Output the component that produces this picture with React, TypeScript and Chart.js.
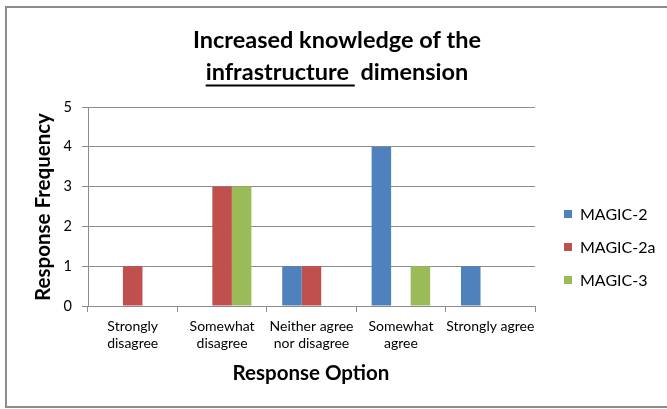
import React, { useEffect, useRef } from "react";
import { Chart, registerables } from "chart.js";

Chart.register(...registerables);

const categories: string[][] = [
  ["Strongly", "disagree"],
  ["Somewhat", "disagree"],
  ["Neither agree", "nor disagree"],
  ["Somewhat", "agree"],
  ["Strongly agree"],
];
const seriesNames = ["MAGIC-2", "MAGIC-2a", "MAGIC-3"];
const magic2 = [0, 0, 1, 4, 1];
const magic2a = [1, 3, 1, 0, 0];
const magic3 = [0, 3, 0, 1, 0];
const colors = ["#4F81BD", "#C0504D", "#9BBB59"];
const titleLine1 = "Increased knowledge of the";
const titleUnderlined = "infrastructure ";
const titleRest = " dimension";
const yTitle = "Response Frequency";
const xTitle = "Response Option";

const FONT = "Lato, 'Open Sans', sans-serif";

const decorPlugin = {
  id: "decor",
  beforeDraw(chart: any) {
    const ctx = chart.ctx;
    ctx.save();
    ctx.fillStyle = "#ffffff";
    ctx.fillRect(0, 0, chart.width, chart.height);
    ctx.strokeStyle = "#8c8c8c";
    ctx.lineWidth = 2;
    ctx.strokeRect(6, 7, chart.width + 10, chart.height - 9);
    ctx.restore();
  },
  afterDraw(chart: any) {
    const ctx = chart.ctx;
    ctx.save();
    ctx.fillStyle = "#000000";
    // title
    const cx = 337;
    ctx.font = `bold 23.5px ${FONT}`;
    ctx.textAlign = "center";
    ctx.textBaseline = "alphabetic";
    ctx.fillText(titleLine1, cx, 48);
    const wU = ctx.measureText(titleUnderlined).width;
    const wR = ctx.measureText(titleRest).width;
    const start = cx - (wU + wR) / 2;
    ctx.textAlign = "left";
    ctx.fillText(titleUnderlined, start, 80);
    ctx.fillText(titleRest, start + wU, 80);
    ctx.strokeStyle = "#000000";
    ctx.lineWidth = 2;
    ctx.beginPath();
    ctx.moveTo(start, 85.5);
    ctx.lineTo(start + wU, 85.5);
    ctx.stroke();
    // axis titles
    ctx.font = `bold 20.5px ${FONT}`;
    ctx.textAlign = "center";
    ctx.fillText(xTitle, 311, 379.5);
    ctx.save();
    ctx.translate(50, 207);
    ctx.rotate(-Math.PI / 2);
    ctx.fillText(yTitle, 0, 0);
    ctx.restore();
    // legend
    ctx.font = `16px ${FONT}`;
    ctx.textAlign = "left";
    ctx.textBaseline = "middle";
    chart.data.datasets.forEach((ds: any, i: number) => {
      const y = 214 + i * 33;
      ctx.fillStyle = ds.backgroundColor;
      ctx.fillRect(564, y - 4, 8, 8);
      ctx.fillStyle = "#000000";
      ctx.fillText(ds.label, 580, y + 1);
    });
    ctx.restore();
  },
};

export default function App() {
  const ref = useRef<HTMLCanvasElement>(null);
  useEffect(() => {
    if (!ref.current) return;
    const seriesData = [magic2, magic2a, magic3];
    const chart = new Chart(ref.current, {
      type: "bar",
      data: {
        labels: categories,
        datasets: seriesNames.map((name, i) => ({
          label: name,
          data: seriesData[i],
          backgroundColor: colors[i],
          borderWidth: 0,
          categoryPercentage: 0.655,
          barPercentage: 1,
        })),
      },
      options: {
        responsive: false,
        animation: false,
        layout: { padding: { top: 107, left: 0, right: 132, bottom: 0 } },
        plugins: {
          legend: { display: false },
          title: { display: false },
          tooltip: { enabled: false },
        },
        scales: {
          x: {
            afterFit: (s: any) => {
              s.height = 103;
            },
            grid: {
              drawOnChartArea: false,
              drawTicks: true,
              tickLength: 6,
              color: "#8c8c8c",
              offset: true,
            },
            border: { color: "#8c8c8c" },
            ticks: {
              color: "#000000",
              font: { family: FONT, size: 14, lineHeight: 1.2 },
              padding: 6,
              maxRotation: 0,
              autoSkip: false,
            },
          },
          y: {
            min: 0,
            max: 5,
            afterFit: (s: any) => {
              s.width = 88;
            },
            grid: { color: "#8c8c8c", tickLength: 6 },
            border: { color: "#8c8c8c" },
            ticks: {
              stepSize: 1,
              color: "#000000",
              font: { family: FONT, size: 14.5 },
              padding: 10,
            },
          },
        },
      },
      plugins: [decorPlugin],
    });
    return () => chart.destroy();
  }, []);
  return (
    <div style={{ position: "fixed", left: 0, top: 0, width: 667, height: 409 }}>
      <canvas ref={ref} width={667} height={409} style={{ display: "block" }} />
    </div>
  );
}
